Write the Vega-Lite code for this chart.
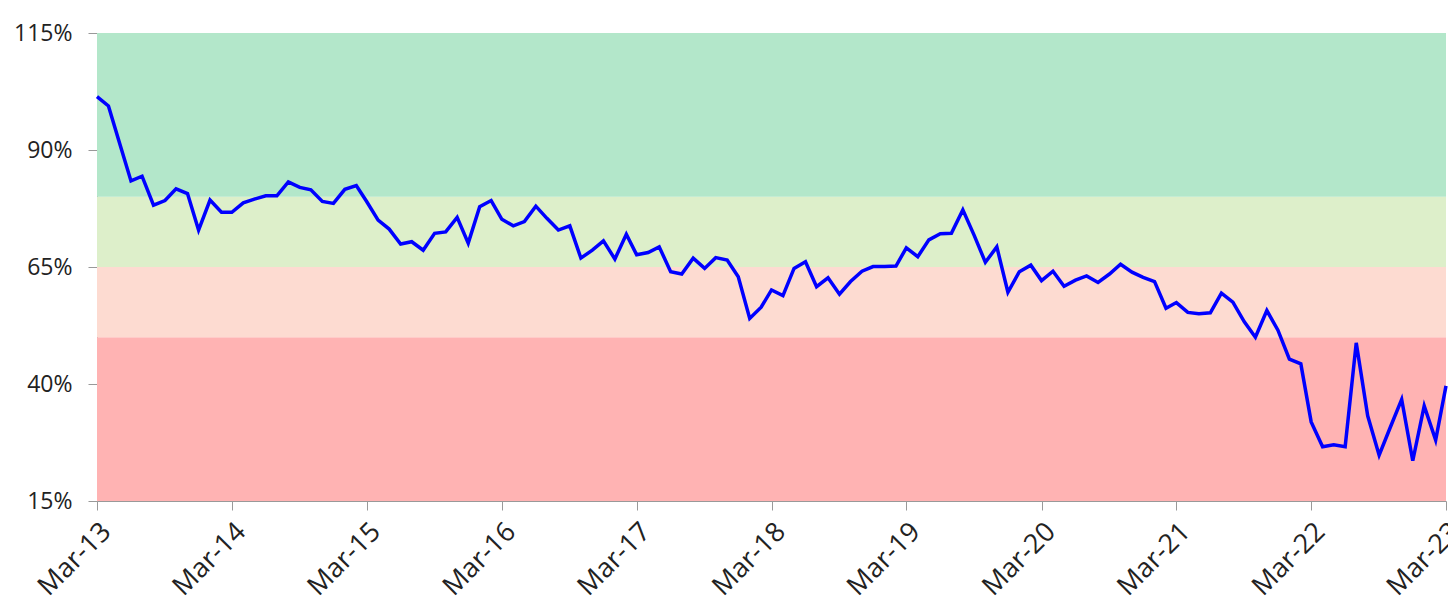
{
  "$schema": "https://vega.github.io/schema/vega-lite/v6.json",
  "width": 1349,
  "height": 468,
  "autosize": {"type": "none"},
  "padding": {"left": 97, "top": 33, "right": 2, "bottom": 107},
  "background": "white",
  "config": {
    "view": {"stroke": null},
    "axis": {"labelFont": "Open Sans", "labelFontSize": 23, "labelColor": "#222222", "domainColor": "#999999", "tickColor": "#999999", "grid": false}
  },
  "datasets": {
    "bands": [
      {"band": "red", "lo": 15, "hi": 50},
      {"band": "pink", "lo": 50, "hi": 65},
      {"band": "lightgreen", "lo": 65, "hi": 80},
      {"band": "green", "lo": 80, "hi": 115}
    ],
    "series": [
      {"date": "2013-03-01", "v": 101.4}, {"date": "2013-04-01", "v": 99.4}, {"date": "2013-05-01", "v": 91.5}, {"date": "2013-06-01", "v": 83.4},
      {"date": "2013-07-01", "v": 84.4}, {"date": "2013-08-01", "v": 78.2}, {"date": "2013-09-01", "v": 79.2}, {"date": "2013-10-01", "v": 81.7},
      {"date": "2013-11-01", "v": 80.7}, {"date": "2013-12-01", "v": 72.9}, {"date": "2014-01-01", "v": 79.3}, {"date": "2014-02-01", "v": 76.7},
      {"date": "2014-03-01", "v": 76.7}, {"date": "2014-04-01", "v": 78.7}, {"date": "2014-05-01", "v": 79.5}, {"date": "2014-06-01", "v": 80.2},
      {"date": "2014-07-01", "v": 80.2}, {"date": "2014-08-01", "v": 83.2}, {"date": "2014-09-01", "v": 82.0}, {"date": "2014-10-01", "v": 81.5},
      {"date": "2014-11-01", "v": 79.0}, {"date": "2014-12-01", "v": 78.6}, {"date": "2015-01-01", "v": 81.6}, {"date": "2015-02-01", "v": 82.4},
      {"date": "2015-03-01", "v": 79.0}, {"date": "2015-04-01", "v": 75.0}, {"date": "2015-05-01", "v": 73.1}, {"date": "2015-06-01", "v": 69.9},
      {"date": "2015-07-01", "v": 70.4}, {"date": "2015-08-01", "v": 68.6}, {"date": "2015-09-01", "v": 72.2}, {"date": "2015-10-01", "v": 72.5},
      {"date": "2015-11-01", "v": 75.6}, {"date": "2015-12-01", "v": 70.1}, {"date": "2016-01-01", "v": 77.9}, {"date": "2016-02-01", "v": 79.2},
      {"date": "2016-03-01", "v": 75.2}, {"date": "2016-04-01", "v": 73.8}, {"date": "2016-05-01", "v": 74.7}, {"date": "2016-06-01", "v": 78.0},
      {"date": "2016-07-01", "v": 75.4}, {"date": "2016-08-01", "v": 72.9}, {"date": "2016-09-01", "v": 73.8}, {"date": "2016-10-01", "v": 66.9},
      {"date": "2016-11-01", "v": 68.6}, {"date": "2016-12-01", "v": 70.6}, {"date": "2017-01-01", "v": 66.7}, {"date": "2017-02-01", "v": 72.0},
      {"date": "2017-03-01", "v": 67.6}, {"date": "2017-04-01", "v": 68.1}, {"date": "2017-05-01", "v": 69.3}, {"date": "2017-06-01", "v": 64.0},
      {"date": "2017-07-01", "v": 63.5}, {"date": "2017-08-01", "v": 66.9}, {"date": "2017-09-01", "v": 64.7}, {"date": "2017-10-01", "v": 67.0},
      {"date": "2017-11-01", "v": 66.5}, {"date": "2017-12-01", "v": 62.9}, {"date": "2018-01-01", "v": 54.0}, {"date": "2018-02-01", "v": 56.4},
      {"date": "2018-03-01", "v": 60.1}, {"date": "2018-04-01", "v": 58.9}, {"date": "2018-05-01", "v": 64.7}, {"date": "2018-06-01", "v": 66.1},
      {"date": "2018-07-01", "v": 60.8}, {"date": "2018-08-01", "v": 62.7}, {"date": "2018-09-01", "v": 59.2}, {"date": "2018-10-01", "v": 61.9},
      {"date": "2018-11-01", "v": 64.1}, {"date": "2018-12-01", "v": 65.1}, {"date": "2019-01-01", "v": 65.1}, {"date": "2019-02-01", "v": 65.2},
      {"date": "2019-03-01", "v": 69.1}, {"date": "2019-04-01", "v": 67.2}, {"date": "2019-05-01", "v": 70.8}, {"date": "2019-06-01", "v": 72.1},
      {"date": "2019-07-01", "v": 72.2}, {"date": "2019-08-01", "v": 77.2}, {"date": "2019-09-01", "v": 71.7}, {"date": "2019-10-01", "v": 66.0},
      {"date": "2019-11-01", "v": 69.3}, {"date": "2019-12-01", "v": 59.6}, {"date": "2020-01-01", "v": 64.0}, {"date": "2020-02-01", "v": 65.4},
      {"date": "2020-03-01", "v": 62.1}, {"date": "2020-04-01", "v": 64.1}, {"date": "2020-05-01", "v": 60.9}, {"date": "2020-06-01", "v": 62.2},
      {"date": "2020-07-01", "v": 63.1}, {"date": "2020-08-01", "v": 61.7}, {"date": "2020-09-01", "v": 63.5}, {"date": "2020-10-01", "v": 65.6},
      {"date": "2020-11-01", "v": 63.9}, {"date": "2020-12-01", "v": 62.8}, {"date": "2021-01-01", "v": 61.9}, {"date": "2021-02-01", "v": 56.2},
      {"date": "2021-03-01", "v": 57.4}, {"date": "2021-04-01", "v": 55.3}, {"date": "2021-05-01", "v": 55.0}, {"date": "2021-06-01", "v": 55.2},
      {"date": "2021-07-01", "v": 59.4}, {"date": "2021-08-01", "v": 57.5}, {"date": "2021-09-01", "v": 53.3}, {"date": "2021-10-01", "v": 50.0},
      {"date": "2021-11-01", "v": 55.7}, {"date": "2021-12-01", "v": 51.5}, {"date": "2022-01-01", "v": 45.3}, {"date": "2022-02-01", "v": 44.3},
      {"date": "2022-03-01", "v": 31.9}, {"date": "2022-04-01", "v": 26.6}, {"date": "2022-05-01", "v": 27.0}, {"date": "2022-06-01", "v": 26.6},
      {"date": "2022-07-01", "v": 48.8}, {"date": "2022-08-01", "v": 33.2}, {"date": "2022-09-01", "v": 24.8}, {"date": "2022-10-01", "v": 30.7},
      {"date": "2022-11-01", "v": 36.7}, {"date": "2022-12-01", "v": 23.6}, {"date": "2023-01-01", "v": 35.3}, {"date": "2023-02-01", "v": 28.0},
      {"date": "2023-03-01", "v": 39.6}
    ]
  },
  "layer": [
    {
      "data": {"name": "bands"},
      "mark": {"type": "rect"},
      "encoding": {
        "y": {"field": "lo", "type": "quantitative", "scale": {"domain": [15, 115], "nice": false, "zero": false},
          "axis": {"values": [15, 40, 65, 90, 115], "labelExpr": "datum.value + '%'", "title": null, "tickSize": 9, "labelPadding": 16, "labelFontSize": 23}},
        "y2": {"field": "hi"},
        "color": {"field": "band", "type": "nominal", "legend": null,
          "scale": {"domain": ["red", "pink", "lightgreen", "green"], "range": ["#FFB3B3", "#FDDBD1", "#DDEFCA", "#B3E7CA"]}}
      }
    },
    {
      "data": {"name": "series"},
      "mark": {"type": "line", "color": "#0000FF", "strokeWidth": 3.5, "strokeJoin": "miter"},
      "encoding": {
        "x": {"field": "date", "type": "temporal",
          "scale": {"type": "utc", "domain": [{"year": 2013, "month": 3, "date": 1, "utc": true}, {"year": 2023, "month": 3, "date": 1, "utc": true}]},
          "axis": {"title": null, "format": "%b-%y", "labelAngle": -45, "tickSize": 9, "labelPadding": 8, "labelFontSize": 27,
            "values": [
              {"year": 2013, "month": 3, "date": 1, "utc": true}, {"year": 2014, "month": 3, "date": 1, "utc": true},
              {"year": 2015, "month": 3, "date": 1, "utc": true}, {"year": 2016, "month": 3, "date": 1, "utc": true},
              {"year": 2017, "month": 3, "date": 1, "utc": true}, {"year": 2018, "month": 3, "date": 1, "utc": true},
              {"year": 2019, "month": 3, "date": 1, "utc": true}, {"year": 2020, "month": 3, "date": 1, "utc": true},
              {"year": 2021, "month": 3, "date": 1, "utc": true}, {"year": 2022, "month": 3, "date": 1, "utc": true},
              {"year": 2023, "month": 3, "date": 1, "utc": true}
            ]}},
        "y": {"field": "v", "type": "quantitative"}
      }
    }
  ]
}
